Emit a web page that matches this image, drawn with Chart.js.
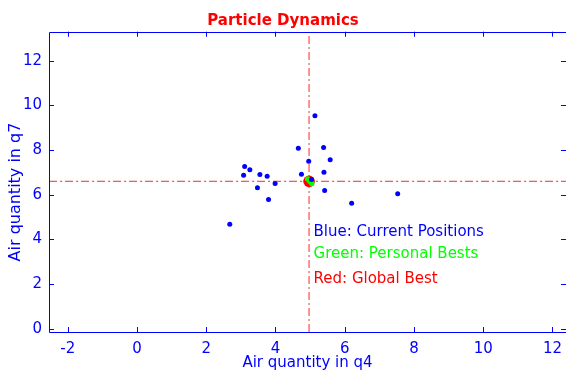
<!DOCTYPE html>
<html>
<head>
<meta charset="utf-8">
<script src="https://cdn.jsdelivr.net/npm/chart.js@4.4.0/dist/chart.umd.min.js"></script>
<style>
    html, body { margin: 0; padding: 0; background: #fff; }
    #wrap { width: 566px; height: 374px; }
</style>
</head>
<body>
<div id="wrap"><canvas id="grafico" width="566" height="374"></canvas></div>
<script>
// ====================================
// PARTICLE DYNAMICS - scatter
// ====================================

// posizioni correnti (blu)
const posX = [5.14, 4.66, 5.39, 5.58, 4.96, 3.11, 3.26, 3.08, 3.55, 3.76, 4.75, 5.40, 3.99, 3.48, 5.42, 3.80, 2.68, 6.20, 7.53, 5.04];
const posY = [9.53, 8.08, 8.11, 7.57, 7.50, 7.26, 7.12, 6.87, 6.90, 6.83, 6.92, 7.01, 6.50, 6.31, 6.19, 5.78, 4.68, 5.62, 6.04, 6.68];

// migliori personali (verde)
const pbestX = [4.93, 4.99, 5.05];
const pbestY = [6.70, 6.60, 6.50];

// migliore globale (rosso)
const gbestX = 4.97;
const gbestY = 6.60;

// assi
const xTicks = [-2, 0, 2, 4, 6, 8, 10, 12];
const yTicks = [0, 2, 4, 6, 8, 10, 12];
const xLimits = [-2.54, 12.39];
const yLimits = [-0.15, 13.3];

const note = ['Blue: Current Positions', 'Green: Personal Bests', 'Red: Global Best'];
const noteY = [4.31, 3.36, 2.20];
const noteColors = ['#0000ff', '#00ff00', '#ff0000'];

const BLU = '#0000ff';
const FONT = '"DejaVu Sans", Verdana, sans-serif';

// cornice blu con tacche verso l'interno, titolo asse y, note
const cornice = {
    id: 'cornice',
    afterDraw(chart) {
        const { ctx, chartArea: a, scales: { x, y } } = chart;
        ctx.save();
        ctx.strokeStyle = BLU;
        ctx.lineWidth = 1;
        ctx.beginPath();
        ctx.rect(Math.round(a.left) + 0.5, Math.round(a.top) + 0.5,
                 Math.round(a.right - a.left), Math.round(a.bottom - a.top));
        xTicks.forEach(v => {
            const px = Math.round(x.getPixelForValue(v)) + 0.5;
            ctx.moveTo(px, a.bottom); ctx.lineTo(px, a.bottom - 5);
            ctx.moveTo(px, a.top); ctx.lineTo(px, a.top + 5);
        });
        yTicks.forEach(v => {
            const py = Math.round(y.getPixelForValue(v)) + 0.5;
            ctx.moveTo(a.left, py); ctx.lineTo(a.left + 5, py);
            ctx.moveTo(a.right, py); ctx.lineTo(a.right - 5, py);
        });
        ctx.stroke();

        // titolo asse y
        ctx.translate(16, 192);
        ctx.rotate(-Math.PI / 2);
        ctx.fillStyle = BLU;
        ctx.font = '16px ' + FONT;
        ctx.textAlign = 'center';
        ctx.textBaseline = 'middle';
        ctx.fillText('Air quantity in q7', 0, 0);
        ctx.restore();
    },
    afterDatasetsDraw(chart) {
        const { ctx, scales: { x, y } } = chart;
        ctx.save();
        ctx.font = '15px ' + FONT;
        ctx.textAlign = 'left';
        ctx.textBaseline = 'middle';
        note.forEach((t, i) => {
            ctx.fillStyle = noteColors[i];
            ctx.fillText(t, x.getPixelForValue(5.1), y.getPixelForValue(noteY[i]));
        });
        ctx.restore();
    }
};

new Chart(document.getElementById('grafico'), {
    type: 'scatter',
    data: {
        datasets: [
            {
                label: 'Current Positions',
                data: posX.map((v, i) => ({ x: v, y: posY[i] })),
                backgroundColor: BLU,
                borderWidth: 0,
                pointRadius: 2.5
            },
            {
                label: 'Personal Bests',
                data: pbestX.map((v, i) => ({ x: v, y: pbestY[i] })),
                backgroundColor: '#00ff00',
                borderWidth: 0,
                pointRadius: 2.7
            },
            {
                label: 'Global Best',
                data: [{ x: gbestX, y: gbestY }],
                backgroundColor: '#ff0000',
                borderWidth: 0,
                pointRadius: 5.8
            },
            {
                type: 'line',
                data: [{ x: xLimits[0], y: gbestY }, { x: xLimits[1], y: gbestY }],
                borderColor: 'rgba(255,0,0,0.85)',
                borderWidth: 1,
                borderDash: [8, 3, 2, 3],
                pointRadius: 0
            },
            {
                type: 'line',
                data: [{ x: gbestX, y: yLimits[0] }, { x: gbestX, y: yLimits[1] }],
                borderColor: 'rgba(255,0,0,0.85)',
                borderWidth: 1,
                borderDash: [8, 3, 2, 3],
                pointRadius: 0
            }
        ]
    },
    options: {
        responsive: false,
        devicePixelRatio: 1,
        animation: false,
        layout: { padding: 0, autoPadding: false },
        plugins: {
            legend: { display: false },
            tooltip: { enabled: false },
            title: {
                display: true,
                text: 'Particle Dynamics',
                color: '#ff0000',
                font: { family: FONT, size: 15, weight: 'bold', lineHeight: 1.2 },
                padding: { top: 12.5, bottom: 1.2 }
            }
        },
        scales: {
            x: {
                type: 'linear',
                min: xLimits[0],
                max: xLimits[1],
                grid: { display: false, drawTicks: false },
                border: { display: false },
                afterBuildTicks: s => { s.ticks = xTicks.map(v => ({ value: v })); },
                afterFit: s => { s.height = 42; s.paddingLeft = 0; s.paddingRight = 0; },
                ticks: { color: BLU, font: { family: FONT, size: 15 }, padding: 8, maxRotation: 0 },
                title: {
                    display: true,
                    text: 'Air quantity in q4',
                    color: BLU,
                    font: { family: FONT, size: 15, lineHeight: 1 },
                    padding: { top: 0, bottom: 3.5 }
                }
            },
            y: {
                type: 'linear',
                min: yLimits[0],
                max: yLimits[1],
                grid: { display: false, drawTicks: false },
                border: { display: false },
                afterBuildTicks: s => { s.ticks = yTicks.map(v => ({ value: v })); },
                afterFit: s => { s.width = 49; s.paddingTop = 0; s.paddingBottom = 0; },
                ticks: { color: BLU, font: { family: FONT, size: 15 }, padding: 7 }
            }
        }
    },
    plugins: [cornice]
});
</script>
</body>
</html>
